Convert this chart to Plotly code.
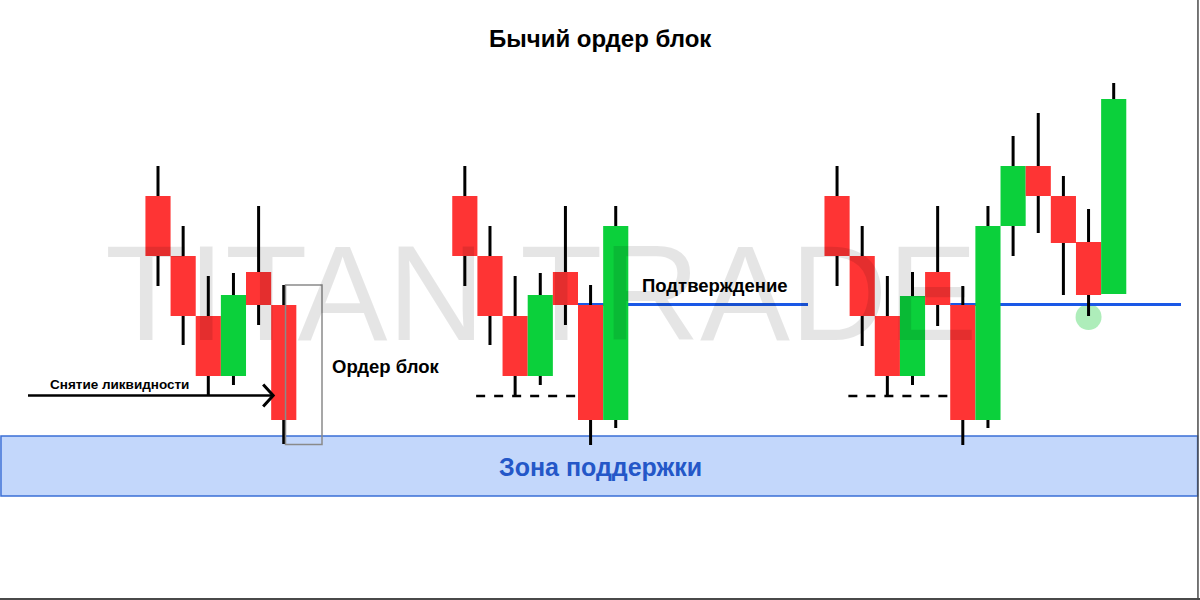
import plotly.graph_objects as go

# ---------------- data (price units) ----------------
# Pattern 1: liquidity sweep into order block
g1_open  = [404, 344, 284, 224, 328, 295]
g1_high  = [434, 374, 324, 327, 394, 315]
g1_low   = [314, 255, 205, 215, 275, 156]
g1_close = [344, 284, 224, 305, 295, 180]

# Pattern 2: confirmation candle
g2_open  = [404, 344, 284, 224, 328, 295, 180]
g2_high  = [434, 374, 324, 327, 394, 315, 394]
g2_low   = [314, 255, 204, 215, 275, 155, 172]
g2_close = [344, 284, 224, 305, 295, 180, 374]

# Pattern 3: retest and continuation
g3_open  = [404, 344, 284, 224, 328, 295, 180, 374, 434, 404, 358, 306]
g3_high  = [434, 374, 324, 328, 394, 314, 394, 464, 487, 424, 391, 517]
g3_low   = [314, 254, 204, 215, 274, 155, 172, 344, 367, 305, 284, 306]
g3_close = [344, 284, 224, 304, 295, 180, 374, 434, 404, 357, 305, 501]

support_zone = (104, 164)

title_text = "Бычий ордер блок"
label_sweep = "Снятие ликвидности"
label_ob = "Ордер блок"
label_confirm = "Подтверждение"
label_zone = "Зона поддержки"
watermark = "TITAN TRADE"

# ---------------- layout parameters ----------------
W, H = 1200, 600
UNIT = 25.15          # px per candle
X0_PX = 158           # pixel of first candle of group 1
group_offsets = [0.0, 12.2, 27.0]
RED = "#fe3434"
GREEN = "#0bd03b"
BLUE = "#1a58e6"
FONT = "Liberation Sans, Arial, sans-serif"

def px_x(px):
    return (px - X0_PX) / UNIT

groups = [
    (g1_open, g1_high, g1_low, g1_close),
    (g2_open, g2_high, g2_low, g2_close),
    (g3_open, g3_high, g3_low, g3_close),
]

fig = go.Figure()
shapes = []

# support zone
shapes.append(dict(type="rect", xref="paper", yref="y", x0=0.0008, x1=0.998,
                   y0=support_zone[0], y1=support_zone[1],
                   fillcolor="#c3d7fb", line=dict(color="#3a6fd6", width=1.5),
                   layer="below"))

# retest circle (group 3, candle 11 low)
o3 = group_offsets[2]
cx = o3 + 10
cy = g3_low[10] - 1
shapes.append(dict(type="circle", xref="x", yref="y",
                   x0=cx - 13 / UNIT, x1=cx + 13 / UNIT, y0=cy - 13, y1=cy + 13,
                   fillcolor="rgba(120,225,140,0.6)", line=dict(width=0), layer="below"))

# confirmation lines (level = open of order-block candle)
for gi, end_px in [(1, 808), (2, 1181)]:
    op = groups[gi][0]
    off = group_offsets[gi]
    lvl = op[5] + 0.5
    shapes.append(dict(type="line", xref="x", yref="y",
                       x0=off + 5 - 0.5, x1=px_x(end_px), y0=lvl, y1=lvl,
                       line=dict(color=BLUE, width=3), layer="below"))
    # dotted liquidity line at low of candle 3
    lo = groups[gi][2][2]
    shapes.append(dict(type="line", xref="x", yref="y",
                       x0=off + 0.45, x1=off + 4.5, y0=lo, y1=lo,
                       line=dict(color="black", width=2.5, dash="dash"), layer="below"))

# candles
for gi, (op, hi, lo, cl) in enumerate(groups):
    off = group_offsets[gi]
    xs = [off + i for i in range(len(op))]
    fig.add_trace(go.Bar(x=xs, y=[h - l for h, l in zip(hi, lo)], base=lo,
                         width=3 / UNIT, marker=dict(color="black", line=dict(width=0)),
                         hoverinfo="skip", showlegend=False))
    fig.add_trace(go.Bar(x=xs, y=[abs(c - o) for o, c in zip(op, cl)],
                         base=[min(o, c) for o, c in zip(op, cl)],
                         width=1.0,
                         marker=dict(color=[GREEN if c > o else RED for o, c in zip(op, cl)],
                                     line=dict(width=0)),
                         hoverinfo="skip", showlegend=False))

# order block box (group 1, candle 6)
shapes.append(dict(type="rect", xref="x", yref="y",
                   x0=5.07, x1=px_x(322), y0=g1_low[5] - 0.5, y1=g1_high[5],
                   line=dict(color="#8a8a8a", width=1.5), fillcolor="rgba(0,0,0,0)",
                   layer="above"))

# liquidity sweep arrow (level = low of candle 3 group 1)
lvl = g1_low[2] - 0.5
tip = 4.5 + 2 / UNIT
fig.add_trace(go.Scatter(x=[px_x(28), tip], y=[lvl, lvl], mode="lines",
                         line=dict(color="black", width=2.5),
                         hoverinfo="skip", showlegend=False))
fig.add_trace(go.Scatter(x=[tip - 10 / UNIT, tip, tip - 10 / UNIT], y=[lvl + 11, lvl, lvl - 11],
                         mode="lines", line=dict(color="black", width=3),
                         hoverinfo="skip", showlegend=False))

# frame lines (right and bottom)
shapes.append(dict(type="line", xref="paper", yref="paper", x0=0, x1=1, y0=0.0015, y1=0.0015,
                   line=dict(color="#4a4a4a", width=2)))
shapes.append(dict(type="line", xref="paper", yref="paper", x0=0.9983, x1=0.9983, y0=0, y1=1,
                   line=dict(color="#4a4a4a", width=1.5)))

def ann(text, px, py, size, color="black", bold=True, xanchor="center"):
    return dict(text=f"<b>{text}</b>" if bold else text, xref="paper", yref="paper",
                x=px / W, y=1 - py / H, xanchor=xanchor, yanchor="middle",
                showarrow=False, font=dict(family=FONT, size=size, color=color))

annotations = [
    ann(watermark, 541, 293, 135, color="rgba(0,0,0,0.10)", bold=False),
    ann(title_text, 600, 38, 24),
    ann(label_sweep, 48, 384, 13.5, xanchor="left"),
    ann(label_ob, 330, 366, 18.5, xanchor="left"),
    ann(label_confirm, 640, 285, 18.5, xanchor="left"),
    ann(label_zone, 600, 467, 25, color="#2457c8"),
]

fig.update_layout(
    width=W, height=H,
    margin=dict(l=0, r=0, t=0, b=0),
    paper_bgcolor="white", plot_bgcolor="white",
    barmode="overlay",
    showlegend=False,
    shapes=shapes,
    annotations=annotations,
    xaxis=dict(range=[px_x(0), px_x(W)], visible=False, fixedrange=True),
    yaxis=dict(range=[0, H], visible=False, fixedrange=True),
    hovermode=False,
)

fig.write_html("out.html", config={"displayModeBar": False},
               post_script="document.body.style.margin='0';document.body.style.overflow='hidden';")
